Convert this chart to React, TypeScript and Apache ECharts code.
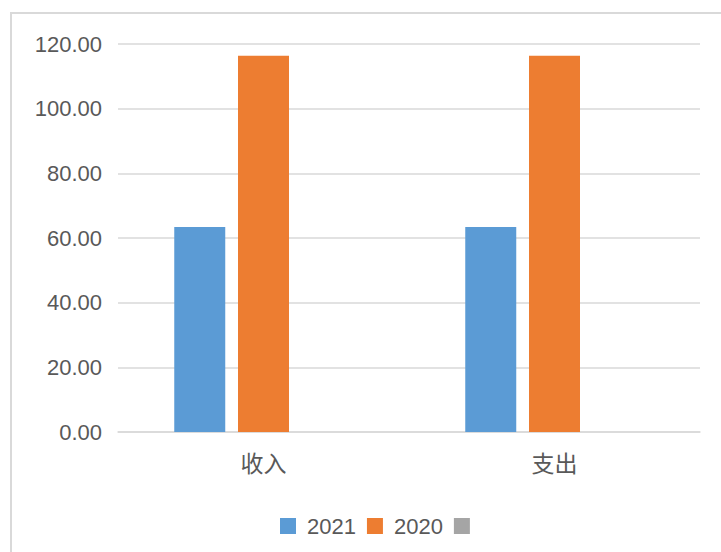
import React, { useEffect, useRef } from "react";
import * as echarts from "echarts";

const categories = ["收入", "支出"];
const series2021 = [63.4, 63.4];
const series2020 = [116.4, 116.4];
const seriesBlank: (number | null)[] = [null, null];
const seriesNames = ["2021", "2020", " "];

export default function App() {
  const ref = useRef<HTMLDivElement>(null);
  useEffect(() => {
    if (!ref.current) return;
    const chart = echarts.init(ref.current, undefined, { renderer: "svg" });
    const textColor = "#595959";
    const font = "'Liberation Sans', Arial, sans-serif";
    chart.setOption({
      animation: false,
      backgroundColor: "#ffffff",
      graphic: [
        {
          type: "rect",
          shape: { x: 11, y: 13, width: 800, height: 600 },
          style: { fill: "none", stroke: "#d9d9d9", lineWidth: 2 },
          z: 0,
        },
      ],
      grid: { left: 118, right: 21, top: 44, bottom: 120 },
      legend: {
        top: 510,
        left: 275,
        itemWidth: 16,
        itemHeight: 16,
        itemGap: 11,
        icon: "rect",
        data: seriesNames,
        textStyle: { color: textColor, fontSize: 22, fontFamily: font, padding: [0, 0, 0, 6] },
      },
      xAxis: {
        type: "category",
        data: categories,
        axisTick: { show: false },
        axisLine: { lineStyle: { color: "#d9d9d9", width: 1.5 } },
        axisLabel: {
          color: textColor,
          fontSize: 23,
          margin: 18,
          fontFamily: "'Noto Sans CJK SC', sans-serif",
        },
      },
      yAxis: {
        type: "value",
        min: 0,
        max: 120,
        interval: 20,
        axisLine: { show: false },
        axisTick: { show: false },
        splitLine: { lineStyle: { color: "#d9d9d9", width: 1.5 } },
        axisLabel: {
          color: textColor,
          fontSize: 22,
          margin: 16,
          fontFamily: font,
          formatter: (v: number) => v.toFixed(2),
        },
      },
      series: [
        {
          name: seriesNames[0],
          type: "bar",
          data: series2021,
          barWidth: 51,
          barGap: "25%",
          itemStyle: { color: "#5B9BD5" },
        },
        {
          name: seriesNames[1],
          type: "bar",
          data: series2020,
          barWidth: 51,
          barGap: "25%",
          itemStyle: { color: "#ED7D31" },
        },
        {
          name: seriesNames[2],
          type: "bar",
          data: seriesBlank,
          barWidth: 51,
          barGap: "25%",
          itemStyle: { color: "#A5A5A5" },
        },
      ],
    });
    return () => chart.dispose();
  }, []);
  return (
    <div
      ref={ref}
      style={{ position: "fixed", left: 0, top: 0, width: 721, height: 552 }}
    />
  );
}
